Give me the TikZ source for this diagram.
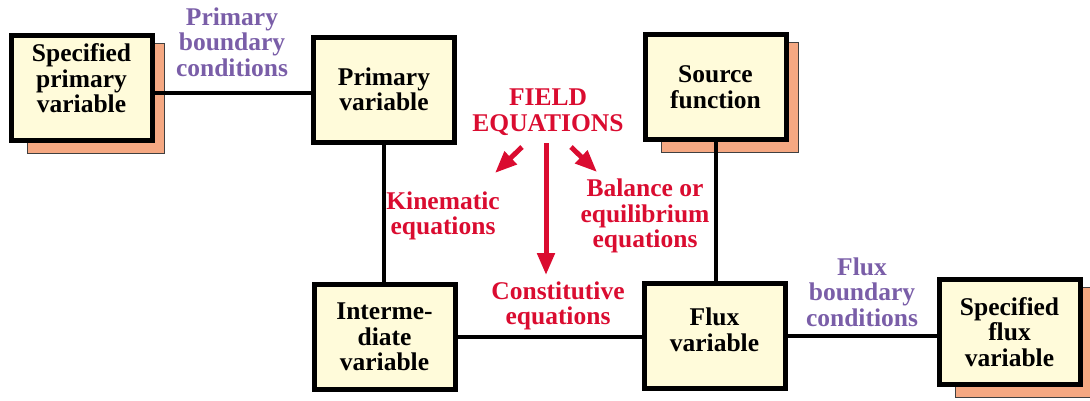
\documentclass[tikz,border=0pt]{standalone}
\usepackage{fontspec}
\setmainfont{Liberation Serif}[BoldFont={Liberation Serif Bold}]
\usetikzlibrary{arrows.meta,calc,backgrounds}
\definecolor{boxfill}{RGB}{255,251,218}
\definecolor{shadowfill}{RGB}{245,168,130}
\definecolor{fieldred}{RGB}{218,12,48}
\definecolor{bcpurple}{RGB}{122,94,168}
\newcommand\bigbold{\fontsize{25.5}{25.5}\selectfont\rmfamily\bfseries}
\newcommand\dropshadow[1]{\fill[shadowfill,draw=black!75,line width=0.8pt] ($(#1.north west)+(19,10)$) rectangle ($(#1.south east)+(10,10)$);}
\begin{document}
\begin{tikzpicture}[x=1pt,y=-1pt,
  varbox/.style={draw=black, line width=5pt, fill=boxfill, minimum width=141pt, minimum height=105pt, inner sep=0pt, align=center, font=\bigbold},
  lbl/.style={align=center, inner sep=0pt, font=\bigbold},
  redlbl/.style={lbl, text=fieldred},
  bclbl/.style={lbl, text=bcpurple},
  conn/.style={draw=black, line width=4pt},
  fieldarrow/.style={draw=fieldred, line width=5pt, -{Triangle[length=22pt,width=17pt]}}]
\useasboundingbox (0,0) rectangle (1090,400);

% boxes
\node[varbox] (spv) at (81.5,88) {Specified\\primary\\variable\\[-6pt]\mbox{}};
\node[varbox] (pv) at (384,89.5) {Primary\\variable};
\node[varbox] (sf) at (715.5,87) {Source\\function};
\node[varbox] (iv) at (384.5,337) {Interme-\\diate\\variable};
\node[varbox] (fv) at (714.5,335.5) {Flux\\variable\\[-14pt]\mbox{}};
\node[varbox] (sfv) at (1009.5,332) {Specified\\flux\\variable};

% shadows
\begin{scope}[on background layer]
\dropshadow{spv}
\dropshadow{sf}
\dropshadow{sfv}
\end{scope}

% connectors
\draw[conn] ([yshift=-5pt]spv.east) -- ([yshift=-5pt]spv.east -| pv.west);
\draw[conn] (pv.south) -- (pv.south |- iv.north);
\draw[conn] (sf.south) -- (sf.south |- fv.north);
\draw[conn] (iv.east) -- (iv.east -| fv.west);
\draw[conn] (fv.east) -- (fv.east -| sfv.west);

% labels
\node[bclbl] (pbc) at (232,42) {Primary\\boundary\\conditions};
\node[bclbl] (fbc) at (862,292) {Flux\\boundary\\conditions};
\node[redlbl] (field) at (548,112) {FIELD\\EQUATIONS};
\node[redlbl] (kin) at (443,216) {Kinematic\\equations};
\node[redlbl] (bal) at (645,216) {Balance or\\equilibrium\\equations};
\node[redlbl] (con) at (558,306) {Constitutive\\equations};

% field arrows
\coordinate (fa1s) at (522,147);
\coordinate (fa1e) at (495,173);
\coordinate (fa2s) at (546,143);
\coordinate (fa2e) at (546,275);
\coordinate (fa3s) at (571,147);
\coordinate (fa3e) at (597,172);
\draw[fieldarrow] (fa1s) -- (fa1e);
\draw[fieldarrow] (fa2s) -- (fa2e);
\draw[fieldarrow] (fa3s) -- (fa3e);
\end{tikzpicture}
\end{document}
